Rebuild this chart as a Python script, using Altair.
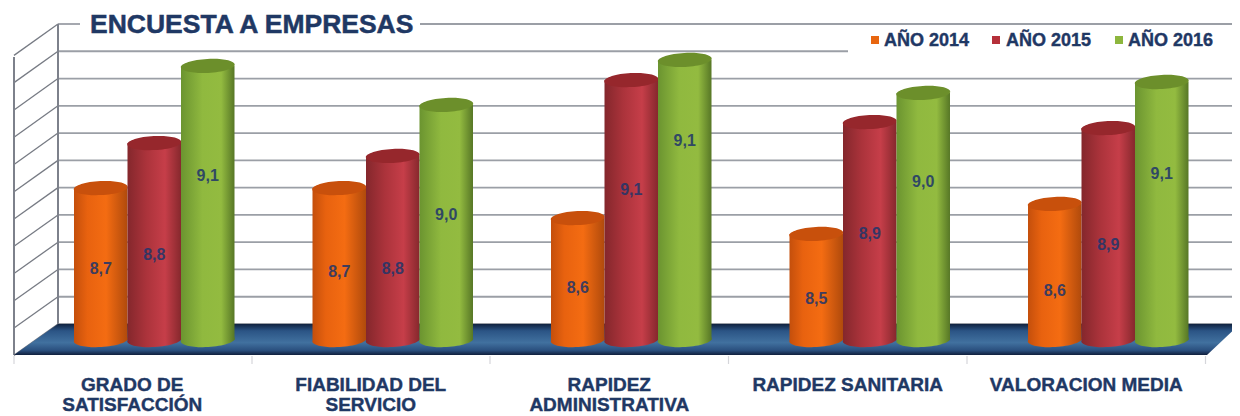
import altair as alt
import pandas as pd

categories = ["GRADO DE\nSATISFACCIÓN", "FIABILIDAD DEL\nSERVICIO", "RAPIDEZ\nADMINISTRATIVA",
              "RAPIDEZ SANITARIA", "VALORACION MEDIA"]
years = ["AÑO 2014", "AÑO 2015", "AÑO 2016"]
values_2014 = [8.657, 8.657, 8.547, 8.489, 8.599]
values_2015 = [8.822, 8.775, 9.053, 8.899, 8.877]
values_2016 = [9.105, 8.962, 9.127, 9.006, 9.046]
labels_2014 = ["8,7", "8,7", "8,6", "8,5", "8,6"]
labels_2015 = ["8,8", "8,8", "9,1", "8,9", "8,9"]
labels_2016 = ["9,1", "9,0", "9,1", "9,0", "9,1"]
# value-axis height at which each printed label sits
anchor_2014 = [8.36, 8.35, 8.29, 8.25, 8.28]
anchor_2015 = [8.41, 8.36, 8.65, 8.49, 8.45]
anchor_2016 = [8.70, 8.56, 8.83, 8.68, 8.71]
grid_values = [8.1, 8.2, 8.3, 8.4, 8.5, 8.6, 8.7, 8.8, 8.9, 9.0, 9.1, 9.2]
BASE = 8.1
WALL_DROP = 0.115

NAVY = "#1f3864"
GRID = "#9b9fa6"
W, H = 1224, 408


def px(v):
    return v - 8


rows = []
for name, vals, labs, anch in [
    (years[0], values_2014, labels_2014, anchor_2014),
    (years[1], values_2015, labels_2015, anchor_2015),
    (years[2], values_2016, labels_2016, anchor_2016),
]:
    for c, v, l, a in zip(categories, vals, labs, anch):
        rows.append({"cat": c, "year": name, "v": v, "lab": l, "anchor": a, "base": BASE})
df = pd.DataFrame(rows)

x_band = alt.Scale(domain=categories, range=[px(35), px(1227.5)], paddingInner=0, paddingOuter=0)
x_off = alt.Scale(domain=years, paddingInner=0, paddingOuter=0.729)
y_bar = alt.Scale(domain=[8.1, 9.2], range=[px(340), px(40)])
y_grid = alt.Scale(domain=[8.1, 9.2], range=[px(324), px(24)])
x_px = alt.Scale(domain=[8, 1232], range=[0, W])
y_px = alt.Scale(domain=[8, 416], range=[0, H])


def hgrad(stops):
    return alt.Gradient(gradient="linear", x1=0, x2=1, y1=0, y2=0,
                        stops=[alt.GradientStop(offset=o, color=c) for o, c in stops])


ELLIPSE = "M-1,0A1,0.26,0,1,1,1,0A1,0.26,0,1,1,-1,0Z"
styles = {
    years[0]: dict(body=[(0, "#c44f0c"), (0.25, "#e8620f"), (0.6, "#f46c12"), (1, "#b04a0c")], cap="#c8500c", key="#e8660f"),
    years[1]: dict(body=[(0, "#84272c"), (0.35, "#ab333b"), (0.7, "#c63e49"), (1, "#86282d")], cap="#96272c", key="#b5303a"),
    years[2]: dict(body=[(0, "#6b9430"), (0.4, "#90b93f"), (0.75, "#93bb40"), (1, "#577726")], cap="#6c8f2b", key="#8db63d"),
}

enc_x = alt.X("cat:N", scale=x_band, axis=None, title=None)
enc_off = alt.XOffset("year:N", scale=x_off)

layers = []

# back wall horizontal lines
g = alt.Chart(pd.DataFrame({"g": grid_values[:-1]}))
layers.append(g.mark_rule(color=GRID, strokeWidth=1.8).encode(
    x=alt.value(px(58)), x2=alt.value(px(1240)),
    y=alt.Y("g:Q", scale=y_grid, axis=None)))
# top line, broken by the title
top = pd.DataFrame({"a": [58, 420], "b": [80, 1240], "y": [24, 24]})
layers.append(alt.Chart(top).mark_rule(color=GRID, strokeWidth=1.8).encode(
    x=alt.X("a:Q", scale=x_px, axis=None), x2="b:Q",
    y=alt.Y("y:Q", scale=y_px, axis=None)))
# side wall
w = alt.Chart(pd.DataFrame({"g": grid_values})).transform_calculate(low=f"datum.g-{WALL_DROP}")
layers.append(w.mark_rule(color="#777b84", strokeWidth=1.3).encode(
    x=alt.value(px(58)), x2=alt.value(px(14)),
    y=alt.Y("g:Q", scale=y_grid, axis=None), y2="low:Q"))
edges = pd.DataFrame({"x": [58, 14], "y1": [24, 57], "y2": [324, 355]})
layers.append(alt.Chart(edges).mark_rule(color="#7d818b", strokeWidth=2).encode(
    x=alt.X("x:Q", scale=x_px, axis=None),
    y=alt.Y("y1:Q", scale=y_px, axis=None), y2="y2:Q"))
# floor
floor = pd.DataFrame({"x": [14, 58, 1207, 1240], "t": [355, 324, 324, 324], "b": [355, 355, 355, 324]})
floor_fill = alt.Gradient(gradient="linear", x1=0, x2=0, y1=0, y2=1, stops=[
    alt.GradientStop(offset=0, color="#10223f"),
    alt.GradientStop(offset=0.22, color="#2b5485"),
    alt.GradientStop(offset=0.6, color="#41719f"),
    alt.GradientStop(offset=0.85, color="#2a4f7e"),
    alt.GradientStop(offset=1, color="#101f3c")])
layers.append(alt.Chart(floor).mark_area(fill=floor_fill, interpolate="linear").encode(
    x=alt.X("x:Q", scale=x_px, axis=None),
    y=alt.Y("t:Q", scale=y_px, axis=None), y2="b:Q"))
# faint ticks under the floor
ticks = pd.DataFrame({"x": [14, 252, 490, 728.5, 967, 1205.5], "a": [356] * 6, "b": [364] * 6})
layers.append(alt.Chart(ticks).mark_rule(color="#d5d6da", strokeWidth=1.2).encode(
    x=alt.X("x:Q", scale=x_px, axis=None),
    y=alt.Y("a:Q", scale=y_px, axis=None), y2="b:Q"))
# white backing of the legend
layers.append(alt.Chart(pd.DataFrame({"k": [0]})).mark_rect(fill="white").encode(
    x=alt.value(px(848)), x2=alt.value(px(1232)), y=alt.value(px(30)), y2=alt.value(px(72))))

# cylinders
for yr in years:
    s = styles[yr]
    base = alt.Chart(df).transform_filter(alt.datum.year == yr)
    layers.append(base.mark_point(shape=ELLIPSE, size=2916, filled=True, opacity=1, strokeWidth=0,
                                  fill=hgrad(s["body"]), angle=357).encode(
        x=enc_x, xOffset=enc_off, y=alt.Y("base:Q", scale=y_bar, axis=None)))
    layers.append(base.mark_bar(fill=hgrad(s["body"])).encode(
        x=enc_x, xOffset=enc_off, y=alt.Y("v:Q", scale=y_bar, axis=None), y2="base:Q"))
    layers.append(base.mark_point(shape=ELLIPSE, size=2916, filled=True, opacity=1, strokeWidth=0,
                                  fill=s["cap"], angle=357).encode(
        x=enc_x, xOffset=enc_off, y=alt.Y("v:Q", scale=y_bar, axis=None)))
    layers.append(base.mark_text(font="Liberation Sans", fontWeight="bold", fontSize=16, color="#20356b",
                                 opacity=0.85, baseline="middle").encode(
        x=enc_x, xOffset=enc_off, y=alt.Y("anchor:Q", scale=y_bar, axis=None), text="lab:N"))

# title
layers.append(alt.Chart(pd.DataFrame({"t": ["ENCUESTA A EMPRESAS"]})).mark_text(
    font="Liberation Sans", fontWeight="bold", fontSize=26.5, color=NAVY, stroke=NAVY, strokeWidth=0.5,
    align="left", baseline="middle").encode(
    x=alt.value(px(90)), y=alt.value(px(25)), text="t:N"))

# key
key_sq = [875, 996, 1119]
key_tx = [884, 1006, 1128]
for yr, a, b in zip(years, key_sq, key_tx):
    row = alt.Chart(pd.DataFrame({"t": [yr]}))
    layers.append(row.mark_square(size=64, opacity=1, color=styles[yr]["key"]).encode(
        x=alt.value(px(a)), y=alt.value(px(40))))
    layers.append(row.mark_text(font="Liberation Sans", fontWeight="bold", fontSize=18, color=NAVY,
                                stroke=NAVY, strokeWidth=0.4, align="left", baseline="middle").encode(
        x=alt.value(px(b)), y=alt.value(px(41)), text="t:N"))

# category labels
cat_df = pd.DataFrame({"cat": categories})
layers.append(alt.Chart(cat_df).mark_text(font="Liberation Sans", fontWeight="bold", fontSize=19, color=NAVY,
                                          stroke=NAVY, strokeWidth=0.4,
                                          lineBreak="\n", lineHeight=20, baseline="alphabetic", align="center",
                                          dx=-22).encode(
    x=enc_x, y=alt.value(px(391)), text="cat:N"))

chart = alt.layer(*layers).resolve_scale(x="independent", y="independent").properties(
    width=W, height=H, padding=0, autosize=alt.AutoSizeParams(type="none"),
    background="white",
).configure_view(stroke=None)

chart.save("out.html", embed_options={"renderer": "svg", "actions": False})
